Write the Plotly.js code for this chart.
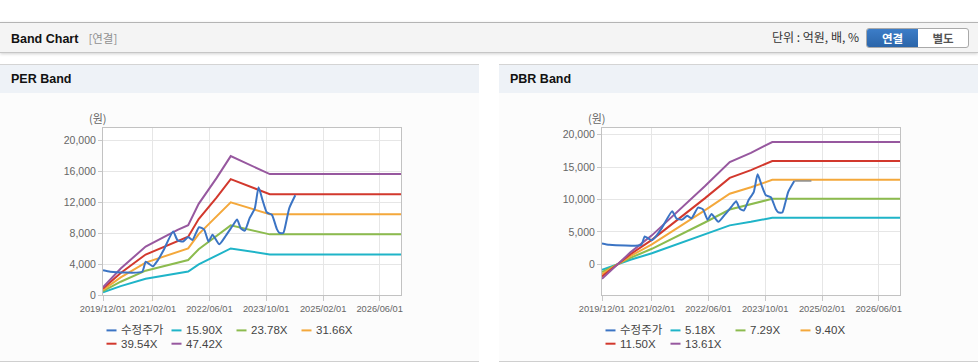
<!DOCTYPE html>
<html><head><meta charset="utf-8">
<script src="https://cdn.plot.ly/plotly-3.0.1.min.js"></script>
<style>
html,body{margin:0;padding:0;background:#fff;}
body{width:978px;height:364px;overflow:hidden;position:relative;font-family:"Liberation Sans","Noto Sans CJK KR",sans-serif;}
#topbar{position:absolute;left:0;top:22px;width:978px;height:29px;background:#f4f4f4;border-top:1px solid #b4b4b4;border-bottom:1px solid #c6c6c6;box-shadow:0 1px 3px rgba(0,0,0,0.18);}
#bt{position:absolute;left:11px;top:7px;font-size:12.5px;font-weight:bold;color:#111;}
#bt span{font-weight:normal;color:#909090;font-size:11.5px;margin-left:10px;font-family:"Noto Sans CJK KR",sans-serif;}
#unit{position:absolute;right:119px;top:5px;font-size:12px;color:#333;font-family:"Noto Sans CJK KR",sans-serif;}
#btns{position:absolute;left:866px;top:5px;width:101px;height:18px;border:1px solid #a9a9a9;border-radius:3px;overflow:hidden;background:#fff;}
#btns div{position:absolute;top:0;height:18px;line-height:18px;text-align:center;font-size:11.5px;font-weight:bold;font-family:"Noto Sans CJK KR",sans-serif;}
#b1{left:0;width:51px;background:linear-gradient(#3c7dc8,#2b65a9);color:#fff;}
#b2{left:51px;width:50px;color:#555;}
.ph{position:absolute;top:64px;height:28px;width:479px;background:#eef2f7;border-top:1px solid #d4d4d4;}
.ph div{position:absolute;left:11px;top:7px;font-size:12.5px;font-weight:bold;color:#111;}
.body{position:absolute;top:93px;height:268px;width:479px;background:#fcfcfc;border-bottom:1px solid #cfcfcf;}
.chart{position:absolute;top:93px;width:479px;height:268px;}
</style></head>
<body>
<div id="topbar">
  <div id="bt">Band Chart<span>[연결]</span></div>
  <div id="unit">단위 : 억원, 배, %</div>
  <div id="btns"><div id="b1">연결</div><div id="b2">별도</div></div>
</div>
<div class="ph" style="left:0"><div>PER Band</div></div>
<div class="ph" style="left:499px"><div>PBR Band</div></div>
<div class="body" style="left:0"></div>
<div class="body" style="left:499px"></div>
<div id="per" class="chart" style="left:0"></div>
<div id="pbr" class="chart" style="left:499px"></div>
<script>
// ---- data ----
const PRICE_NAME = '수정주가';
const PRICE_DATES = ['2019-12-01','2020-02-01','2020-11-01','2020-12-01','2021-01-01','2021-02-01','2021-03-16','2021-05-01','2021-07-25','2021-09-01','2021-10-19','2021-12-01','2022-01-07','2022-03-04','2022-04-16','2022-05-25','2022-06-28','2022-08-25','2022-10-22','2022-12-16','2023-01-25','2023-02-25','2023-04-01','2023-05-13','2023-06-25','2023-07-28','2023-09-01','2023-10-07','2023-11-19','2024-01-01','2024-01-22','2024-02-25','2024-03-19','2024-04-16','2024-06-07'];
const PRICE = [3200,3000,3000,4300,4000,3700,4500,5700,8200,7050,6900,7500,7100,8750,8470,6880,7780,6550,7700,8900,9750,8600,8300,9950,11150,13900,12200,10650,10350,8500,8020,8000,9300,11200,12870];
const PRICE_TAIL_DATES = ['2024-06-07','2024-11-01'];
const PRICE_TAIL = [12870,12870];

const PER_DATES = ['2019-12-01','2020-05-01','2020-12-01','2021-05-01','2021-09-01','2021-12-01','2022-03-01','2022-08-01','2022-12-01','2023-11-01','2026-12-01'];
const PER_NAMES = ['15.90X','23.78X','31.66X','39.54X','47.42X'];
const PER_1 = [334,1145,2099,2496,2814,3021,3943,5056,6010,5231,5231];
const PER_2 = [499,1712,3139,3733,4209,4518,5897,7562,8989,7824,7824];
const PER_3 = [665,2280,4179,4971,5604,6015,7852,10068,11967,10416,10416];
const PER_4 = [830,2847,5219,6208,6999,7513,9806,12574,14946,13009,13009];
const PER_5 = [996,3414,6259,7445,8393,9010,11760,15080,17925,15601,15601];

const PBR_DATES = ['2019-12-01','2020-05-01','2020-08-01','2021-02-01','2021-10-01','2022-05-01','2022-12-01','2023-06-01','2023-12-01','2026-12-01'];
const PBR_NAMES = ['5.18X','7.29X','9.40X','11.50X','13.61X'];
const PBR_1 = [-855,78,699,1699,3222,4584,6009,6553,7185,7185];
const PBR_2 = [-1203,109,984,2391,4534,6452,8456,9222,10111,10111];
const PBR_3 = [-1551,141,1269,3083,5847,8319,10904,11891,13038,13038];
const PBR_4 = [-1898,173,1553,3772,7153,10178,13340,14548,15951,15951];
const PBR_5 = [-2246,204,1837,4464,8465,12045,15788,17217,18877,18877];

const X_TICKS = ['2019-12-01','2021-02-01','2022-06-01','2023-10-01','2025-02-01','2026-06-01'];
const X_TICK_LABELS = ['2019/12/01','2021/02/01','2022/06/01','2023/10/01','2025/02/01','2026/06/01'];
const PER_YTICKS = [0,4000,8000,12000,16000,20000];
const PBR_YTICKS = [0,5000,10000,15000,20000];

const COLORS = ['#3b74c4','#1fb4c8','#8cbb4e','#f4a83b','#d2382d','#97589f'];

function makeChart(div, bandDates, bands, names, yRange, yTicks, withTail){
  const W = 479, H = 268, M = {l:103, r:78, t:35, b:66};
  const pw = W - M.l - M.r, ph = H - M.t - M.b;
  const traces = [];
  bands.forEach((b, i) => {
    traces.push({x: bandDates, y: b, name: names[i], type: 'scatter', mode: 'lines',
      line: {color: COLORS[i+1], width: 2}, showlegend: false});
  });
  traces.push({x: PRICE_DATES, y: PRICE, name: PRICE_NAME, type: 'scatter', mode: 'lines',
    line: {color: COLORS[0], width: 2, shape: 'spline', smoothing: 0.5}, showlegend: false});
  if (withTail) {
    traces.push({x: PRICE_TAIL_DATES, y: PRICE_TAIL, type: 'scatter', mode: 'lines',
      line: {color: '#8a8a8a', width: 1.5}, showlegend: false});
  }
  // legend drawn as swatches + text
  const legNames = [PRICE_NAME].concat(names);
  const shapes = [], annotations = [];
  legNames.forEach((n, i) => {
    const col = i % 4, row = Math.floor(i / 4);
    const x0 = 3.5 + 65 * col;
    const yp = -(35.4 + 13.3 * row) / ph;
    shapes.push({type: 'line', xref: 'paper', yref: 'paper', x0: x0 / pw, x1: (x0 + 10) / pw,
      y0: yp, y1: yp, line: {color: COLORS[i], width: 2}});
    annotations.push({xref: 'paper', yref: 'paper', x: (x0 + 12) / pw, y: yp, xanchor: 'left',
      yanchor: 'middle', showarrow: false, text: n,
      font: {size: 11.5, color: '#444', family: '"Liberation Sans","Noto Sans CJK KR",sans-serif'}});
  });
  annotations.push({xref: 'paper', yref: 'paper', x: -5 / pw, y: 1 + 10 / ph, xanchor: 'center',
    yanchor: 'middle', showarrow: false, text: '(원)',
    font: {size: 11, color: '#666', family: '"Noto Sans CJK KR",sans-serif'}});
  const layout = {
    width: W, height: H, margin: M, paper_bgcolor: 'rgba(0,0,0,0)', plot_bgcolor: '#ffffff',
    showlegend: false,
    font: {family: '"Liberation Sans","Noto Sans CJK KR",sans-serif', color: '#666'},
    xaxis: {type: 'date', range: ['2019-12-01', '2026-12-01'], tickvals: X_TICKS, ticktext: X_TICK_LABELS,
      tickangle: 0, showgrid: true, gridcolor: '#e6e6e6', showline: true, linecolor: '#c2c2c2', mirror: true,
      ticks: 'outside', ticklen: 5, tickcolor: '#c8c8c8', tickfont: {size: 9.3, color: '#666'}, zeroline: false},
    yaxis: {range: yRange, tickvals: yTicks, tickformat: ',d', showgrid: true, gridcolor: '#e6e6e6',
      showline: true, linecolor: '#c2c2c2', mirror: true, ticks: 'outside', ticklen: 4, tickcolor: '#c8c8c8',
      tickfont: {size: 10.5, color: '#666'}, zeroline: false},
    shapes: shapes, annotations: annotations
  };
  Plotly.newPlot(div, traces, layout, {staticPlot: true, displayModeBar: false});
}

makeChart('per', PER_DATES, [PER_1, PER_2, PER_3, PER_4, PER_5], PER_NAMES, [0, 21550], PER_YTICKS, false);
makeChart('pbr', PBR_DATES, [PBR_1, PBR_2, PBR_3, PBR_4, PBR_5], PBR_NAMES, [-4750, 21050], PBR_YTICKS, true);
</script>
</body></html>
